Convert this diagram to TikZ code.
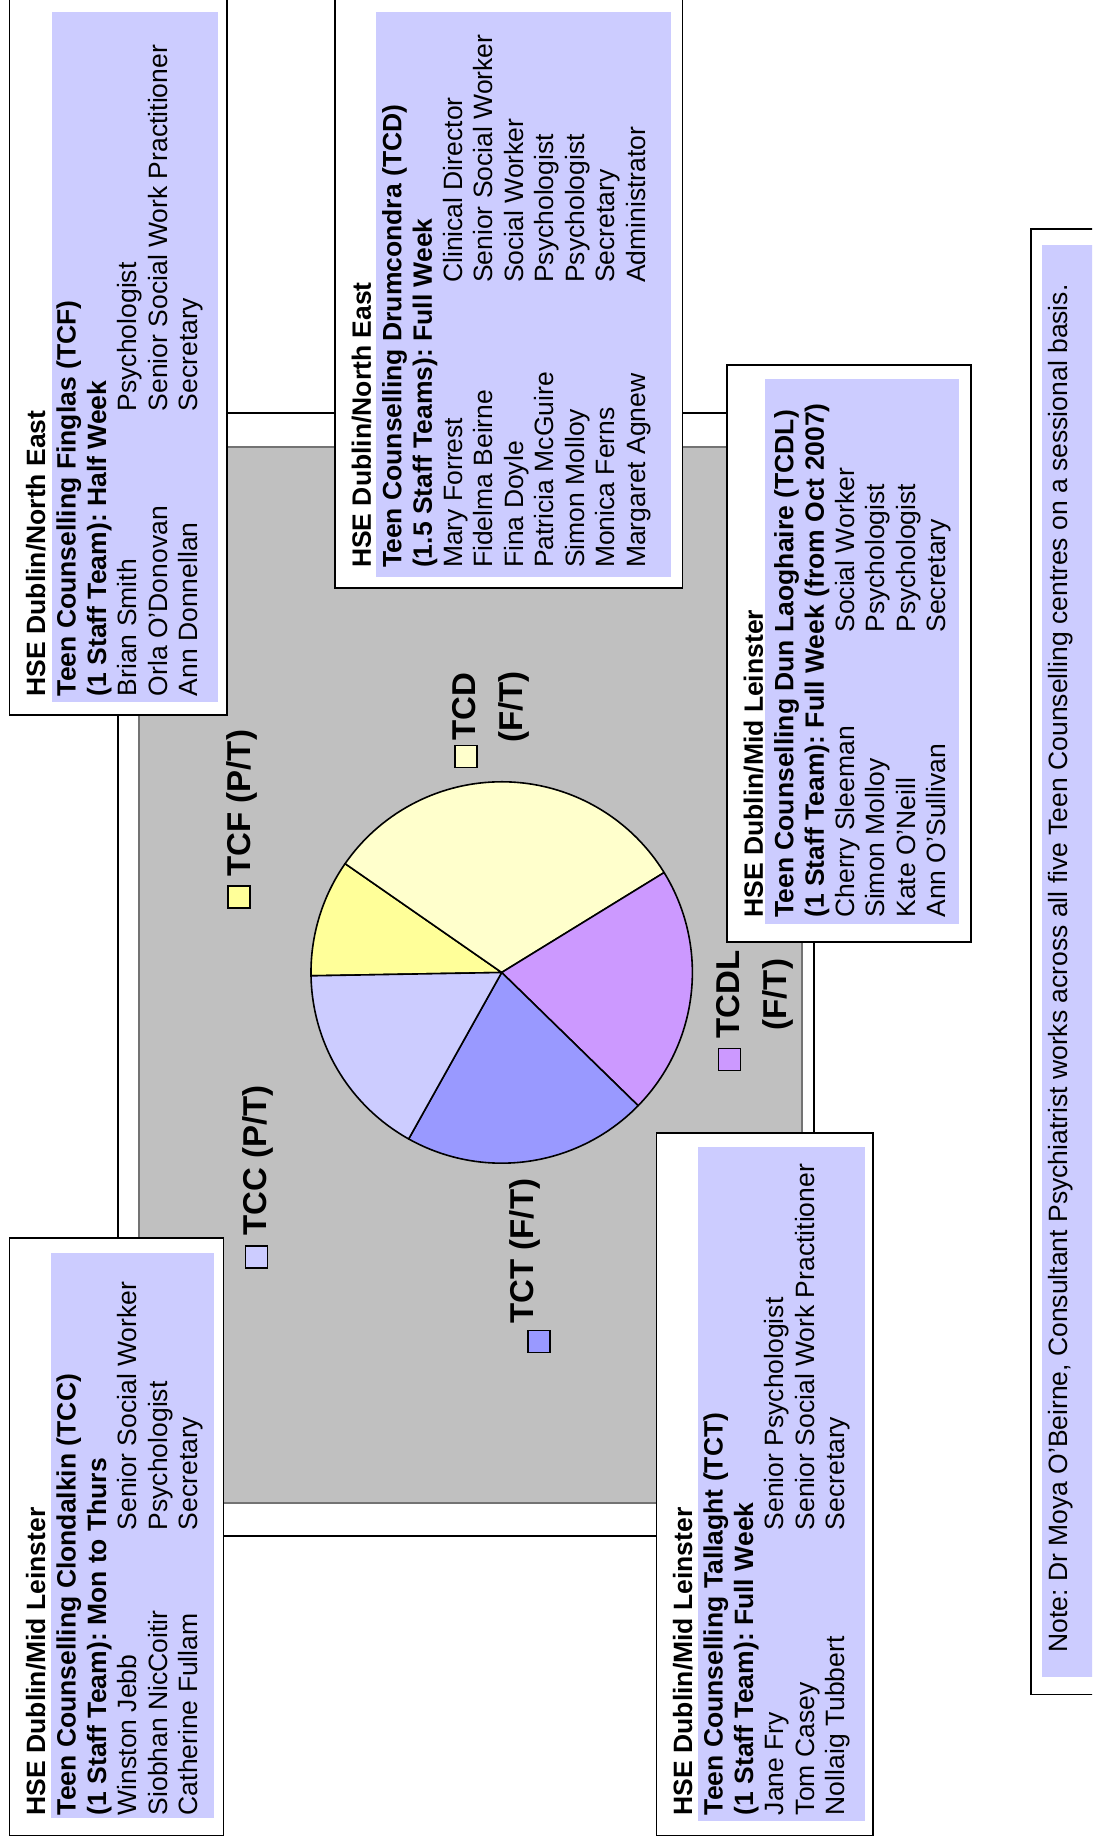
\documentclass[tikz,border=0pt]{standalone}
\usepackage{fontspec}
\setmainfont{Liberation Sans}
\usepackage{tikz}
\frenchspacing

\definecolor{staffblue}{HTML}{CCCCFF}
\definecolor{plotgrey}{HTML}{C0C0C0}
\definecolor{tcfcolour}{HTML}{FFFF99}
\definecolor{tcdcolour}{HTML}{FFFFCC}
\definecolor{tcdlcolour}{HTML}{CC99FF}
\definecolor{tctcolour}{HTML}{9999FF}
\definecolor{tcccolour}{HTML}{CCCCFF}

\newcommand{\member}[2]{\makebox[142.5pt][l]{#1}#2}

\begin{document}
\begin{tikzpicture}
    [
      x=0.5pt, y=0.5pt, rotate=90, transform shape,
      chart/.style={draw=black, fill=white, line width=0.6pt},
      plot/.style={draw=black!55, fill=plotgrey, line width=0.6pt},
      slice/.style={draw=black, line width=0.8pt, line join=round},
      key/.style={draw=black, line width=0.6pt, minimum size=11pt, inner sep=0pt},
      keytext/.style={anchor=north west, inner sep=0pt, align=center,
        font=\fontsize{16.5}{23.5}\selectfont\bfseries},
      teambox/.style={draw=black, fill=white, line width=0.8pt},
      teamfill/.style={fill=staffblue},
      team/.style={anchor=north west, inner sep=0pt, align=left,
        font=\fontsize{13.25}{15.25}\selectfont},
    ]

    \useasboundingbox (0,0) rectangle (1845,1092);
    \clip (0,0) rectangle (1845,1092);

    % chart and plot area
    \draw [chart] (309,278) rectangle (1432,974);
    \draw [plot] (342,290) rectangle (1398,953);

    \coordinate (pie-centre) at (872.5,590.3);
    \draw [slice, fill=tcfcolour] (pie-centre) -- ++(55.2:190.7)
      arc [start angle=55.2, end angle=91, radius=190.7] -- cycle;
    \draw [slice, fill=tcdcolour] (pie-centre) -- ++(-58.4:190.7)
      arc [start angle=-58.4, end angle=55.2, radius=190.7] -- cycle;
    \draw [slice, fill=tcdlcolour] (pie-centre) -- ++(-134.3:190.7)
      arc [start angle=-134.3, end angle=-58.4, radius=190.7] -- cycle;
    \draw [slice, fill=tctcolour] (pie-centre) -- ++(-209.2:190.7)
      arc [start angle=-209.2, end angle=-134.3, radius=190.7] -- cycle;
    \draw [slice, fill=tcccolour] (pie-centre) -- ++(-269:190.7)
      arc [start angle=-269, end angle=-209.2, radius=190.7] -- cycle;

    % legend
    \node (key-tcf) [key, fill=tcfcolour] at (948,853) {};
    \node (label-tcf) [keytext] at (968,865.5) {TCF (P/T)};
    \node (key-tcc) [key, fill=tcccolour] at (588,835.5) {};
    \node (label-tcc) [keytext] at (609,849.5) {TCC (P/T)};
    \node (key-tct) [key, fill=tctcolour] at (503.6,553) {};
    \node (label-tct) [keytext] at (521,583) {TCT (F/T)};
    \node (key-tcd) [key, fill=tcdcolour] at (1088.4,626) {};
    \node (label-tcd) [keytext] at (1102,639.5) {TCD\\(F/T)};
    \node (key-tcdl) [key, fill=tcdlcolour] at (785.5,362.5) {};
    \node (label-tcdl) [keytext] at (806,375.5) {TCDL\\(F/T)};

    % Finglas
    \draw [teambox] (1130,865) rectangle (1860,1082.6);
    \fill [teamfill] (1142.5,874) rectangle (1833,1040);
    \node (team-tcf) [team] at (1148.4,1066.4) {%
      \textbf{HSE Dublin/North East}\\
      \textbf{Teen Counselling Finglas (TCF)}\\
      \textbf{(1 Staff Team): Half Week}\\
      \member{Brian Smith}{Psychologist}\\
      \member{Orla O'Donovan}{Senior Social Work Practitioner}\\
      \member{Ann Donnellan}{Secretary}};

    % Drumcondra
    \draw [teambox] (1257,409.5) rectangle (1860,757);
    \fill [teamfill] (1268.4,421) rectangle (1833,715.5);
    \node (team-tcd) [team] at (1276.7,740.8) {%
      \textbf{HSE Dublin/North East}\\
      \textbf{Teen Counselling Drumcondra (TCD)}\\
      \textbf{(1.5 Staff Teams): Full Week}\\
      \member{Mary Forrest}{Clinical Director}\\
      \member{Fidelma Beirne}{Senior Social Worker}\\
      \member{Fina Doyle}{Social Worker}\\
      \member{Patricia McGuire}{Psychologist}\\
      \member{Simon Molloy}{Psychologist}\\
      \member{Monica Ferns}{Secretary}\\
      \member{Margaret Agnew}{Administrator}};

    % Dun Laoghaire
    \draw [teambox] (903,121) rectangle (1480,365);
    \fill [teamfill] (921.3,133) rectangle (1466,327);
    \node (team-tcdl) [team] at (927,348.8) {%
      \textbf{HSE Dublin/Mid Leinster}\\
      \textbf{Teen Counselling Dun Laoghaire (TCDL)}\\
      \textbf{(1 Staff Team): Full Week (from Oct 2007)}\\
      \member{Cherry Sleeman}{Social Worker}\\
      \member{Simon Molloy}{Psychologist}\\
      \member{Kate O'Neill}{Psychologist}\\
      \member{Ann O'Sullivan}{Secretary}};

    % Tallaght
    \draw [teambox] (9.4,219) rectangle (712,435.4);
    \fill [teamfill] (23.5,227) rectangle (698,394);
    \node (team-tct) [team] at (29.4,419.4) {%
      \textbf{HSE Dublin/Mid Leinster}\\
      \textbf{Teen Counselling Tallaght (TCT)}\\
      \textbf{(1 Staff Team): Full Week}\\
      \member{Jane Fry}{Senior Psychologist}\\
      \member{Tom Casey}{Senior Social Work Practitioner}\\
      \member{Nollaig Tubbert}{Secretary}};

    % Clondalkin
    \draw [teambox] (9.4,868.4) rectangle (607,1082.6);
    \fill [teamfill] (27,878) rectangle (592,1041.4);
    \node (team-tcc) [team] at (29.4,1066.4) {%
      \textbf{HSE Dublin/Mid Leinster}\\
      \textbf{Teen Counselling Clondalkin (TCC)}\\
      \textbf{(1 Staff Team): Mon to Thurs}\\
      \member{Winston Jebb}{Senior Social Worker}\\
      \member{Siobhan NicCoitir}{Psychologist}\\
      \member{Catherine Fullam}{Secretary}};

    % note
    \draw [teambox] (150.6,-20) rectangle (1616,61);
    \fill [teamfill] (168,-20) rectangle (1600,50);
    \node (note) [team] at (192,44.4) {Note: Dr Moya O'Beirne, Consultant Psychiatrist works across all five Teen Counselling centres on a sessional basis.};

  \end{tikzpicture}
\end{document}
